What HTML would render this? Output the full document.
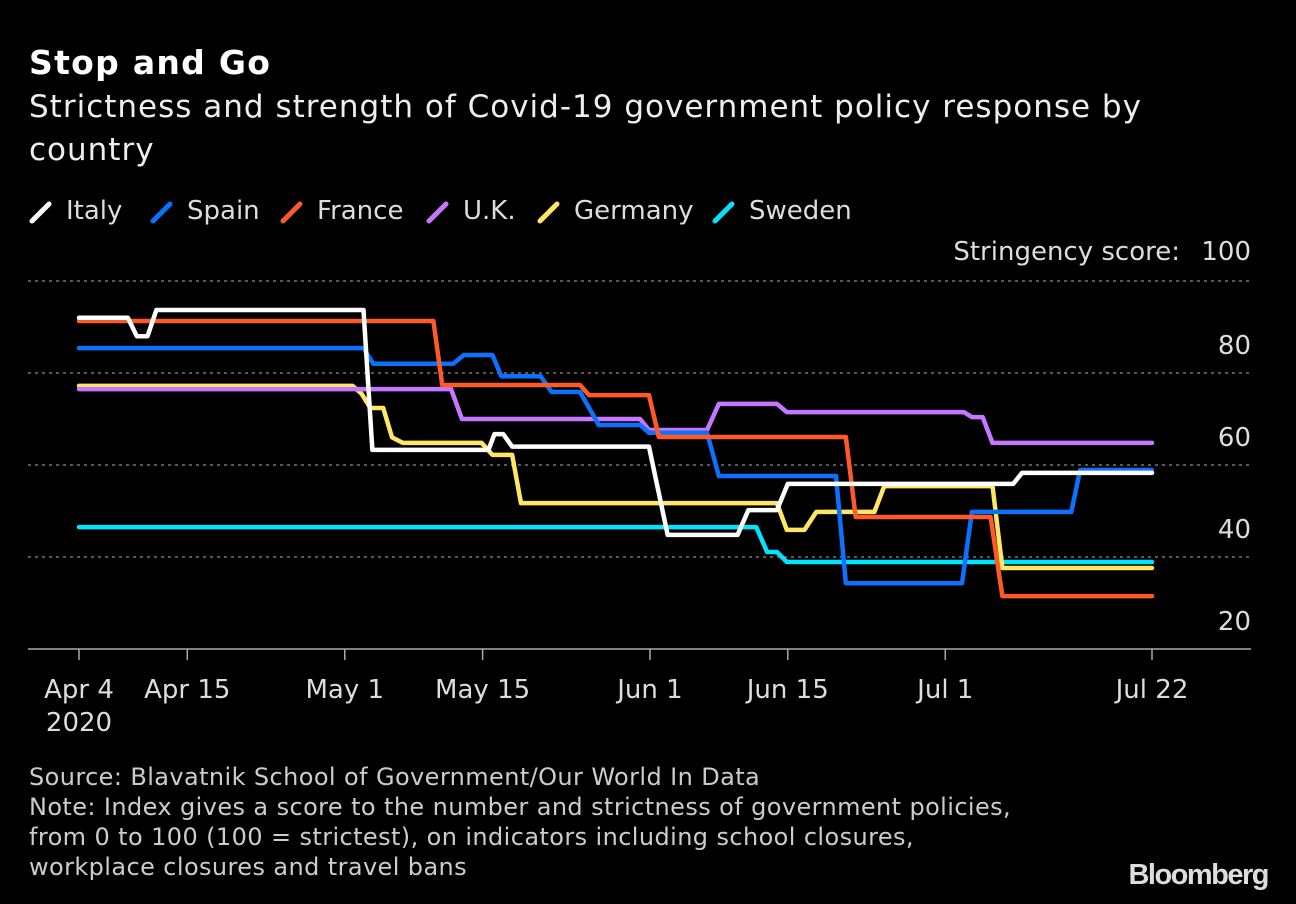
<!DOCTYPE html>
<html><head><meta charset="utf-8">
<style>
body{margin:0;background:#000;width:1296px;height:904px;overflow:hidden;font-family:"DejaVu Sans","Liberation Sans",sans-serif;color:#fff}
.t{position:absolute;white-space:nowrap}
</style></head><body>
<div class="t" style="left:29px;top:43px;font-size:33px;font-weight:bold;letter-spacing:1.3px">Stop and Go</div>
<div class="t" style="left:29px;top:86px;font-size:31px;line-height:43px;color:#eee;letter-spacing:1px">Strictness and strength of Covid-19 government policy response by<br>country</div>
<svg id="chart" width="1296" height="904" style="position:absolute;left:0;top:0;font-family:'DejaVu Sans','Liberation Sans',sans-serif"></svg>
<div class="t" style="left:29px;top:762px;font-size:24px;line-height:30px;color:#ccc;letter-spacing:0.4px">Source: Blavatnik School of Government/Our World In Data<br>Note: Index gives a score to the number and strictness of government policies,<br>from 0 to 100 (100 = strictest), on indicators including school closures,<br>workplace closures and travel bans</div>
<div class="t" style="right:28px;top:859px;font-size:29px;font-weight:bold;color:#ddd;letter-spacing:-1.5px;font-family:'Liberation Sans',sans-serif">Bloomberg</div>
<script>
const names=["Italy","Spain","France","U.K.","Germany","Sweden"];
const colors=["#ffffff","#0a72ff","#ff5a26","#c777ff","#ffe763","#00e4ff"];
const italyDays=[0,4.97,5.87,6.96,7.86,28.9,29.8,41.6,42.2,43.1,44,57.9,59.8,66.9,68,70.9,72,94.9,95.8,109];
const italyVals=[92,92,88,88,93.7,93.7,63.3,63.3,66.7,66.7,64,64,44.8,44.8,50.2,50.2,55.9,55.9,58.3,58.3];
const spainDays=[0,28.9,29.9,38,39.1,42,42.9,46.9,48,50.9,52.8,57,57.9,63.8,65,76.9,77.9,89.7,90.7,100.8,101.7,109];
const spainVals=[85.4,85.4,82,82,83.9,83.9,79.3,79.3,75.9,75.9,68.7,68.7,67,67,57.6,57.6,34.3,34.3,49.8,49.8,58.9,58.9];
const franceDays=[0,36,36.9,50.9,51.8,57.9,58.9,77.9,78.9,92.6,93.8,109];
const franceVals=[91.3,91.3,77.4,77.4,75.2,75.2,66.1,66.1,48.7,48.7,31.5,31.5];
const ukDays=[0,37.8,38.9,57,57.9,63.8,65,70.9,71.9,89.9,90.7,91.8,92.8,109];
const ukVals=[76.5,76.5,70,70,67.6,67.6,73.3,73.3,71.5,71.5,70.4,70.4,64.8,64.8];
const germanyDays=[0,27.8,28.7,29.6,30.9,31.8,32.9,40.9,42,44,44.9,70.9,71.9,73.7,74.9,80.8,81.8,92.8,93.8,109];
const germanyVals=[77.2,77.2,75.5,72.4,72.4,66,64.8,64.8,62.2,62.2,51.7,51.7,45.9,45.9,49.8,49.8,55.4,55.4,37.6,37.6];
const swedenDays=[0,68.8,69.9,70.9,71.9,109];
const swedenVals=[46.5,46.5,41.1,41.1,38.9,38.9];
const yTicks=[100,80,60,40,20];
const xTickDays=[0,11,27,41,58,72,88,109];
const xTickLabels=["Apr 4","Apr 15","May 1","May 15","Jun 1","Jun 15","Jul 1","Jul 22"];

const NS="http://www.w3.org/2000/svg";
const svg=document.getElementById('chart');
const X=d=>79+d*(1073/109);
const Y=v=>281+(100-v)*4.6;
function mk(tag,attrs,parent){const e=document.createElementNS(NS,tag);for(const k in attrs)e.setAttribute(k,attrs[k]);(parent||svg).appendChild(e);return e;}

const legendX=[29,150,280,426,537,712];
names.forEach((n,i)=>{
  const lx=legendX[i];
  const g=mk('g',{});
  
  
  mk('line',{x1:lx+3,y1:221,x2:lx+20,y2:204,stroke:colors[i],'stroke-width':5,'stroke-linecap':'round'},g);
  const t=mk('text',{x:lx+37,y:219,fill:'#ddd','font-size':26},g);t.textContent=n;
});
const ytitle=mk('text',{x:1180,y:260,fill:'#ddd','font-size':26,'text-anchor':'end'});


ytitle.textContent='Stringency score:';
yTicks.forEach(v=>{
  if(v>=40){const l=mk('line',{x1:28,x2:1251,y1:Y(v),y2:Y(v),stroke:'#777','stroke-width':1.5,'stroke-dasharray':'3,4'});
  
  }
  const t=mk('text',{x:1251,y:v===100?260:Y(v)-19,fill:'#ddd','font-size':26,'text-anchor':'end'});
  
  
  t.textContent=String(v);
});
const ax=mk('line',{x1:28,x2:1251,y1:649,y2:649,stroke:'#aaa','stroke-width':1.5});


xTickDays.forEach((d,i)=>{
  mk('line',{x1:X(d),x2:X(d),y1:649,y2:660,stroke:'#aaa','stroke-width':1.5});
  const t=mk('text',{x:X(d),y:698,fill:'#ddd','font-size':26,'text-anchor':'middle'});
  
  
  t.textContent=xTickLabels[i];
});
const yr=mk('text',{x:X(0),y:731,fill:'#ddd','font-size':26,'text-anchor':'middle'});yr.textContent='2020';


const series=[[italyDays,italyVals],[spainDays,spainVals],[franceDays,franceVals],[ukDays,ukVals],[germanyDays,germanyVals],[swedenDays,swedenVals]];
const order=[5,4,3,1,2,0];
order.forEach(i=>{
  const [ds,vs]=series[i];
  const p=mk('polyline',{points:ds.map((d,k)=>X(d)+','+Y(vs[k])).join(' '),fill:'none',stroke:colors[i],'stroke-width':4.5,'stroke-linejoin':'round','stroke-linecap':'round'});
  
  
});
</script>
</body></html>
